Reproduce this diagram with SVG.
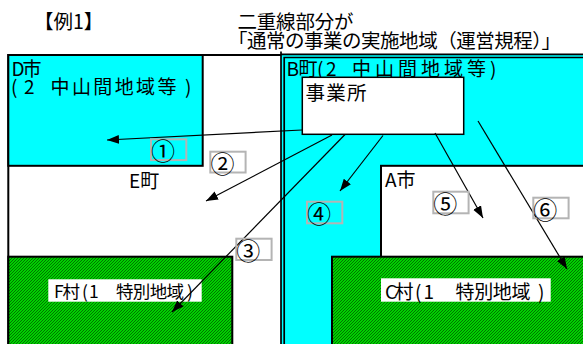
<svg xmlns="http://www.w3.org/2000/svg" width="583" height="344" viewBox="0 0 583 344">
<defs>
<pattern id="hatch" width="3" height="3" patternUnits="userSpaceOnUse">
<rect width="3" height="3" fill="#00d000"/>
<path d="M-1,1 L1,-1 M0,3 L3,0 M2,4 L4,2" stroke="#006a00" stroke-width="0.9"/>
</pattern>
<marker id="ah" markerUnits="userSpaceOnUse" markerWidth="13" markerHeight="10" refX="12" refY="4.5" orient="auto">
<path d="M0,0 L12,4.5 L0,9 z" fill="#000"/>
</marker>
<style>
text{font-family:"Noto Sans CJK JP","Noto Sans CJK SC",sans-serif;fill:#000}
.t{font-size:19.5px}
.l{font-size:19px}
.n{font-size:24px}
.area{stroke:#000;stroke-width:2}
.nb{fill:none;stroke:#b4b4b4;stroke-width:2}
.lbg{fill:#fff}
.arr{stroke:#000;stroke-width:1.2;fill:none;marker-end:url(#ah)}
</style>
</defs>
<rect width="583" height="344" fill="#fff"/>
<g id="title">
<text class="t" x="34" y="28.5">【例1】</text>
<text class="t" x="237.5" y="28.5" textLength="116" lengthAdjust="spacing">二重線部分が</text>
<text class="t" x="228" y="47.5" textLength="333" lengthAdjust="spacing">「通常の事業の実施地域（運営規程）」</text>
</g>
<g id="E">
<path d="M8.3,344 V55 H281" fill="none" stroke="#000" stroke-width="2"/>
<text class="l" x="129" y="188">E町</text>
</g>
<g id="D">
<rect class="area" x="8.3" y="55" width="194.4" height="110.8" fill="#00ffff"/>
<text class="l" y="75.5"><tspan x="11.5">D</tspan><tspan x="22.5">市</tspan></text>
<text class="l" y="94"><tspan x="11">(</tspan><tspan x="24">2</tspan><tspan x="50.5" textLength="126" lengthAdjust="spacing">中山間地域等</tspan><tspan x="185">)</tspan></text>
</g>
<g id="F">
<rect class="area" x="8.3" y="256.7" width="224" height="100" fill="url(#hatch)"/>
<rect class="lbg" x="48.3" y="279.3" width="153.4" height="22.4"/>
<text style="font-size:17.5px" y="297.5"><tspan x="54">F</tspan><tspan x="62.5">村</tspan><tspan x="82">(</tspan><tspan x="89">1</tspan><tspan x="116" textLength="68" lengthAdjust="spacing">特別地域</tspan><tspan x="187">)</tspan></text>
</g>
<g id="B">
<rect x="281" y="54.5" width="310" height="300" fill="#00ffff"/>
<path d="M281,51.5 V344 M281,54.3 H583" fill="none" stroke="#000" stroke-width="1.7"/>
<path d="M284.2,344 V57.5 H583" fill="none" stroke="#000" stroke-width="1.7"/>
<text class="l" y="76"><tspan x="286.5">B</tspan><tspan x="298.5">町</tspan><tspan x="317">(</tspan><tspan x="326">2</tspan><tspan x="352" textLength="134" lengthAdjust="spacing">中山間地域等</tspan><tspan x="490">)</tspan></text>
</g>
<g id="A">
<rect class="area" x="381" y="165.8" width="250" height="200" fill="#fff"/>
<text class="l" x="385" y="187">A市</text>
</g>
<g id="C">
<rect class="area" x="332" y="256.7" width="300" height="100" fill="url(#hatch)"/>
<rect class="lbg" x="381" y="278.3" width="169.7" height="23.4"/>
<text class="l" y="299"><tspan x="385">C</tspan><tspan x="394.5">村</tspan><tspan x="415">(</tspan><tspan x="423.5">1</tspan><tspan x="455.5" textLength="75" lengthAdjust="spacing">特別地域</tspan><tspan x="538">)</tspan></text>
</g>
<g id="office">
<rect x="302.3" y="77.3" width="161.4" height="57" fill="#fff" stroke="#000" stroke-width="1.5"/>
<text x="305.5" y="99.5" style="font-size:19.5px" textLength="61" lengthAdjust="spacing">事業所</text>
</g>
<g id="connectors">
<line class="arr" x1="302" y1="130" x2="107" y2="140"/>
<line class="arr" x1="332" y1="135" x2="206" y2="201"/>
<line class="arr" x1="345" y1="134.5" x2="172" y2="312"/>
<line class="arr" x1="383" y1="135.5" x2="340" y2="191"/>
<line class="arr" x1="435" y1="133" x2="483" y2="218"/>
<line class="arr" x1="478" y1="121" x2="567" y2="269"/>
</g>
<g id="numbers">
<rect class="nb" x="151" y="139.3" width="35.3" height="20.8"/>
<text class="n" x="151" y="160">①</text>
<rect class="nb" x="210.3" y="151.7" width="35.3" height="20.8"/>
<text class="n" x="210.4" y="172.5">②</text>
<rect class="nb" x="236.3" y="238.7" width="35.3" height="21.3"/>
<text class="n" x="236.3" y="259.5">③</text>
<rect class="nb" x="307" y="201.7" width="35.3" height="21.6"/>
<text class="n" x="307" y="222.5">④</text>
<rect class="nb" x="433.3" y="191.7" width="35.3" height="21.6"/>
<text class="n" x="433.3" y="212.5">⑤</text>
<rect class="nb" x="533.3" y="197.7" width="35.3" height="20.6"/>
<text class="n" x="533.3" y="218.5">⑥</text>
</g>
</svg>
